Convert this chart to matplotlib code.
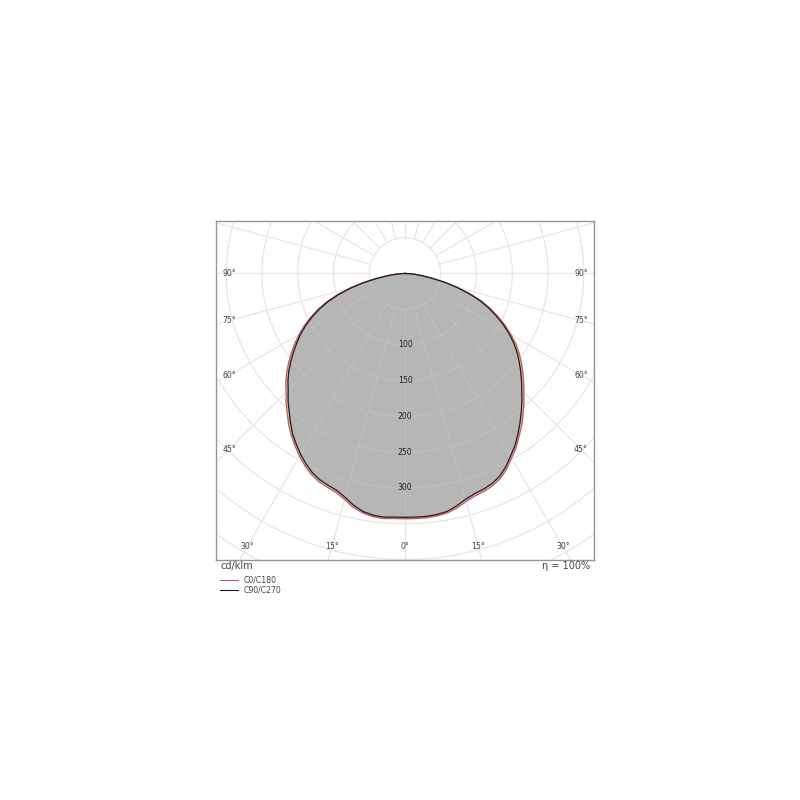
import numpy as np
import matplotlib
matplotlib.use('Agg')
from matplotlib import pyplot as plt

# ============================================================
# DONNEES (cd/klm, angle gamma depuis le nadir)
# ============================================================
gamma = [0, 2.5, 5, 7.5, 10, 12.5, 15, 17.5, 20, 22.5, 25, 27.5, 30, 32.5, 35, 37.5,
         40, 42.5, 45, 47.5, 50, 52.5, 55, 57.5, 60, 62.5, 65, 67.5, 70, 72.5, 75,
         77.5, 80, 82.5, 85, 87.5, 90]

c0   = [343, 343, 343, 342, 340, 336, 330, 326, 324, 321, 316, 308, 298, 289, 278, 268,
        257, 246, 235, 225, 215, 205, 195, 184, 171, 158, 144, 130, 115, 96, 77,
        58, 39, 25, 15, 7, 0]
c180 = [343, 343, 344, 343, 340, 335, 327, 321, 318, 315, 310, 303, 295, 286, 277, 267,
        256, 246, 235, 226, 216, 205, 194, 183, 171, 159, 146, 132, 117, 99, 80,
        61, 41, 26, 15, 7, 0]
c90  = [341, 341, 341, 340, 338, 333, 327, 323, 321, 318, 313, 305, 295, 286, 275, 264,
        253, 242, 231, 221, 211, 201, 191, 180, 168, 155, 141, 127, 112, 94, 75,
        56, 38, 24, 14, 6, 0]
c270 = [341, 341, 342, 341, 338, 332, 324, 318, 315, 312, 307, 300, 292, 283, 274, 263,
        252, 242, 231, 222, 212, 201, 190, 179, 168, 156, 143, 129, 114, 97, 78,
        59, 40, 25, 14, 6, 0]

rings       = [50, 100, 150, 200, 250, 300, 350, 400, 450, 500]
ring_labels = [100, 150, 200, 250, 300]
spokes      = list(range(0, 360, 15))
bottom_ticks = [-30, -15, 0, 15, 30]
side_ticks   = [45, 60, 75, 90]

GRID = '#e2e2e2'
TXT  = '#444444'

# ============================================================
# OUTILS
# ============================================================
def outline(left, right):
    g = np.radians(gamma)
    gl = g[::-1]
    il = np.array(left)[::-1]
    ir = np.array(right)
    x = np.concatenate([-il * np.sin(gl), ir * np.sin(g)])
    y = np.concatenate([-il * np.cos(gl), -ir * np.cos(g)])
    return x, y

def draw_grid(ax, color, alpha, z):
    t = np.linspace(0, 2 * np.pi, 400)
    for r in rings:
        ax.plot(r * np.cos(t), r * np.sin(t), color=color, lw=0.8, alpha=alpha, zorder=z)
    for a in spokes:
        ar = np.radians(a)
        ax.plot([50 * np.sin(ar), 700 * np.sin(ar)], [-50 * np.cos(ar), -700 * np.cos(ar)],
                color=color, lw=0.8, alpha=alpha, zorder=z)

# ============================================================
# FIGURE
# ============================================================
fig = plt.figure(figsize=(8, 8), dpi=100)
ax = fig.add_axes([0.27, 0.30, 0.4725, 0.42375])
ax.set_xlim(-264.3, 264.3)
ax.set_ylim(-400.7, 73.4)
ax.set_xticks([])
ax.set_yticks([])
for s in ax.spines.values():
    s.set_color('#959595')
    s.set_linewidth(1)

x0, y0 = outline(c180, c0)
x9, y9 = outline(c270, c90)

draw_grid(ax, GRID, 1.0, 0)
ax.fill(x0, y0, color='#dccbcb', zorder=1)
ax.fill(x9, y9, color='#b6b6b6', zorder=2)
draw_grid(ax, '#ffffff', 0.12, 3)

ax.plot(x0, y0, color='#c85a5a', lw=0.9, zorder=4)
ax.plot(x9, y9, color='#1e1e1e', lw=0.9, zorder=5)

# etiquettes
for r in ring_labels:
    ax.text(0, -r, str(r), ha='center', va='center', fontsize=5.6, color='#222222', zorder=6)
yb = -382.5
for a in bottom_ticks:
    ax.text(-yb * np.tan(np.radians(a)), yb, f'{abs(a)}°', ha='center', va='center',
            fontsize=5.6, color=TXT, zorder=6)
for a in side_ticks:
    xs = 246
    ys = -xs / np.tan(np.radians(a)) if a != 90 else 0
    ax.text(-xs, ys, f'{a}°', ha='center', va='center', fontsize=5.6, color=TXT, zorder=6)
    ax.text(xs, ys, f'{a}°', ha='center', va='center', fontsize=5.6, color=TXT, zorder=6)

fig.text(220 / 800, 1 - 566 / 800, 'cd/klm', ha='left', va='center', fontsize=7, color=TXT)
fig.text(590 / 800, 1 - 566 / 800, 'η = 100%', ha='right', va='center', fontsize=7, color=TXT)

fig.add_artist(plt.Line2D([220 / 800, 238 / 800], [1 - 580 / 800] * 2, color='#c85a5a', lw=0.8))
fig.add_artist(plt.Line2D([220 / 800, 238 / 800], [1 - 590 / 800] * 2, color='#1e1e1e', lw=0.8))
fig.text(244 / 800, 1 - 580 / 800, 'C0/C180', ha='left', va='center', fontsize=5.6, color=TXT)
fig.text(244 / 800, 1 - 590 / 800, 'C90/C270', ha='left', va='center', fontsize=5.6, color=TXT)

fig.savefig('out.png', dpi=100, facecolor='white')
